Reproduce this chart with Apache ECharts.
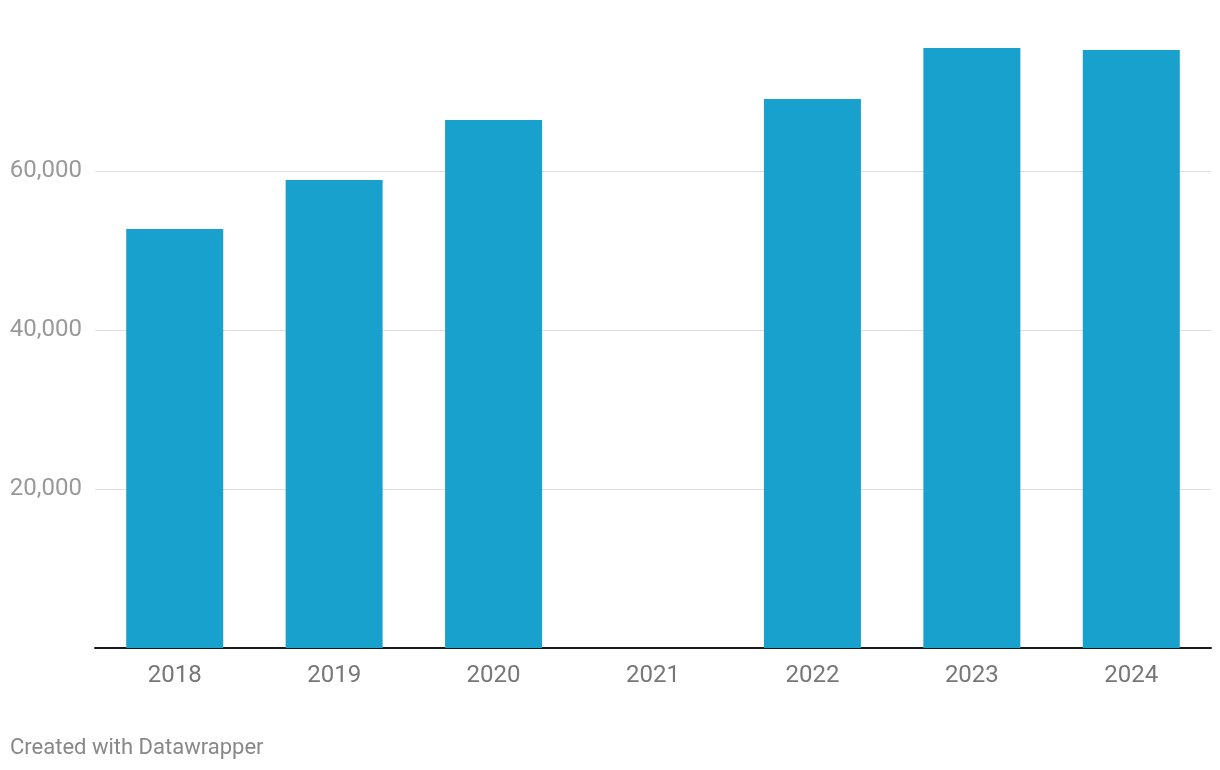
<!DOCTYPE html>
<html>
<head>
<meta charset="utf-8">
<script src="https://cdn.jsdelivr.net/npm/echarts@6/dist/echarts.min.js"></script>
<style>
  html, body { margin: 0; padding: 0; background: #fff; }
  #chart { width: 1220px; height: 770px; }
</style>
</head>
<body>
<div id="chart"></div>
<script>
// values
var years = ['2018', '2019', '2020', '2021', '2022', '2023', '2024'];
var values = [52700, 58870, 66400, null, 69060, 75470, 75220];
var yTicks = [0, 20000, 40000, 60000, 80000];

var myChart = echarts.init(document.getElementById('chart'));
myChart.setOption({
  animation: false,
  textStyle: { fontFamily: 'Roboto' },
  grid: { left: 95, right: 9, top: 12, bottom: 122, containLabel: false },
  graphic: [{
    type: 'text', left: 10, top: 737,
    style: { text: 'Created with Datawrapper', fill: '#888', font: '22px Roboto' }
  }],
  xAxis: {
    type: 'category',
    data: years,
    axisTick: { show: false },
    axisLine: { lineStyle: { color: '#1a1a1a', width: 2 } },
    axisLabel: { color: '#777', fontSize: 24, margin: 16 }
  },
  yAxis: {
    type: 'value',
    min: yTicks[0],
    max: yTicks[yTicks.length - 1],
    interval: 20000,
    axisLine: { show: false },
    axisTick: { show: false },
    axisLabel: {
      color: '#999', fontSize: 24, margin: 13,
      showMinLabel: false, showMaxLabel: false,
      formatter: function (v) { return v.toLocaleString('en-US'); }
    },
    splitLine: { showMinLine: false, showMaxLine: false, lineStyle: { color: '#dedede', width: 1 } }
  },
  series: [{
    type: 'bar',
    data: values,
    barWidth: 97,
    itemStyle: { color: '#18a1cd' }
  }]
});
</script>
</body>
</html>
